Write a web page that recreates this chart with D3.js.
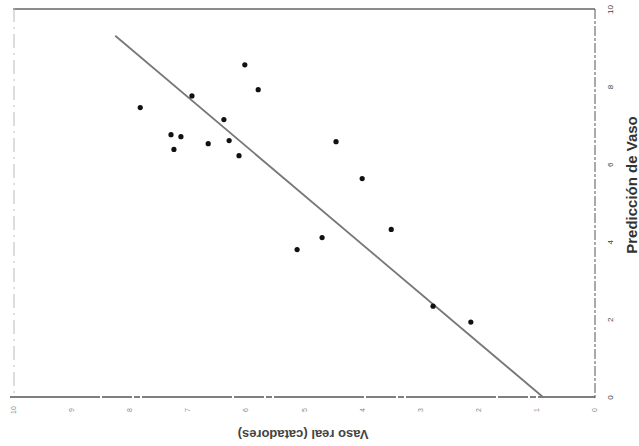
<!DOCTYPE html>
<html>
<head>
<meta charset="utf-8">
<script src="https://cdn.jsdelivr.net/npm/d3@7"></script>
<style>
  body { margin: 0; background: #fff; }
  svg { display: block; font-family: "Liberation Sans", Arial, sans-serif; }
</style>
</head>
<body>
<div id="chart"></div>
<script>
// scanned chart is turned 90deg: Vaso real runs right->left, Prediccion bottom->top
var realTicks = [0, 1, 2, 3, 4, 5, 6, 7, 8, 9, 10];
var predTicks = [0, 2, 4, 6, 8, 10];

var realVals = [7.81, 6.92, 6.37, 6.01, 5.78, 7.28, 7.11, 7.23, 6.64, 6.28, 6.11, 4.44, 3.99, 3.49, 4.68, 5.11, 2.77, 2.12];
var predVals = [7.46, 7.76, 7.15, 8.56, 7.92, 6.76, 6.71, 6.38, 6.53, 6.61, 6.22, 6.58, 5.63, 4.32, 4.11, 3.80, 2.34, 1.93];

// regression line ends
var fitPred = [0, 9.31];
var fitReal = [0.88, 8.24];

const w = 639, h = 446;

const svg = d3.select("#chart")
    .append("svg")
    .attr("width", w)
    .attr("height", h);

const xScale = d3.scaleLinear()
    .domain([0, 10])
    .range([594, 13]);

const yScale = d3.scaleLinear()
    .domain([0, 10])
    .range([397, 9]);

// frame
svg.append("line")
    .attr("x1", 13).attr("x2", 595)
    .attr("y1", yScale(10)).attr("y2", yScale(10))
    .attr("stroke", "#666").attr("stroke-width", 1.6);
svg.append("line")
    .attr("x1", 14).attr("x2", 14)
    .attr("y1", 8).attr("y2", 398)
    .attr("stroke", "#bbb").attr("stroke-width", 1)
    .attr("stroke-dasharray", "14,5,2,5");
svg.append("line")
    .attr("x1", 10).attr("x2", 595)
    .attr("y1", yScale(0)).attr("y2", yScale(0))
    .attr("stroke", "#555").attr("stroke-width", 1.5)
    .attr("stroke-dasharray", "90,2,30,2,6,2");
svg.append("line")
    .attr("x1", xScale(0) + 1).attr("x2", xScale(0) + 1)
    .attr("y1", 9).attr("y2", 398)
    .attr("stroke", "#555").attr("stroke-width", 1)
    .attr("stroke-dasharray", "10,2,3,2");

// bottom axis (Vaso real)
const bottomAxis = svg.append("g")
    .attr("transform", `translate(0, ${yScale(0)})`)
    .call(d3.axisBottom(xScale).tickValues(realTicks).tickSize(0).tickFormat(d3.format("d")));
bottomAxis.select(".domain").remove();
bottomAxis.selectAll("text")
    .attr("y", null).attr("dy", null)
    .attr("transform", "translate(0, 13) rotate(-90)")
    .attr("text-anchor", "middle")
    .attr("dominant-baseline", "central")
    .attr("font-size", 7)
    .attr("fill", "#888");

// right axis (Prediccion)
const rightAxis = svg.append("g")
    .attr("transform", `translate(${xScale(0) + 1}, 0)`)
    .call(d3.axisRight(yScale).tickValues(predTicks).tickSize(0));
rightAxis.select(".domain").remove();
rightAxis.selectAll("text")
    .attr("x", null).attr("dy", null)
    .attr("transform", "translate(15, 0) rotate(-90)")
    .attr("text-anchor", "middle")
    .attr("dominant-baseline", "central")
    .attr("font-size", 8)
    .attr("fill", "#444");

// axis titles
svg.append("text")
    .attr("transform", "translate(303, 434) rotate(180)")
    .attr("text-anchor", "middle")
    .attr("dominant-baseline", "central")
    .attr("font-size", 13)
    .attr("font-weight", "bold")
    .attr("fill", "#444")
    .text("Vaso real (catadores)");

svg.append("text")
    .attr("transform", "translate(631, 185) rotate(-90)")
    .attr("text-anchor", "middle")
    .attr("dominant-baseline", "central")
    .attr("font-size", 15)
    .attr("font-weight", "bold")
    .attr("fill", "#333")
    .text("Predicción de Vaso");

// regression line
const fit = fitPred.map((p, i) => ({pred: p, real: fitReal[i]}));
svg.append("path")
    .datum(fit)
    .attr("fill", "none")
    .attr("stroke", "#777")
    .attr("stroke-width", 1.8)
    .attr("d", d3.line().x(d => xScale(d.real)).y(d => yScale(d.pred)));

// points
const dataset = realVals.map((r, i) => ({real: r, pred: predVals[i]}));
svg.append("g")
    .selectAll("circle")
    .data(dataset)
    .join("circle")
    .attr("cx", d => xScale(d.real))
    .attr("cy", d => yScale(d.pred))
    .attr("r", 2.6)
    .attr("fill", "#111");
</script>
</body>
</html>
